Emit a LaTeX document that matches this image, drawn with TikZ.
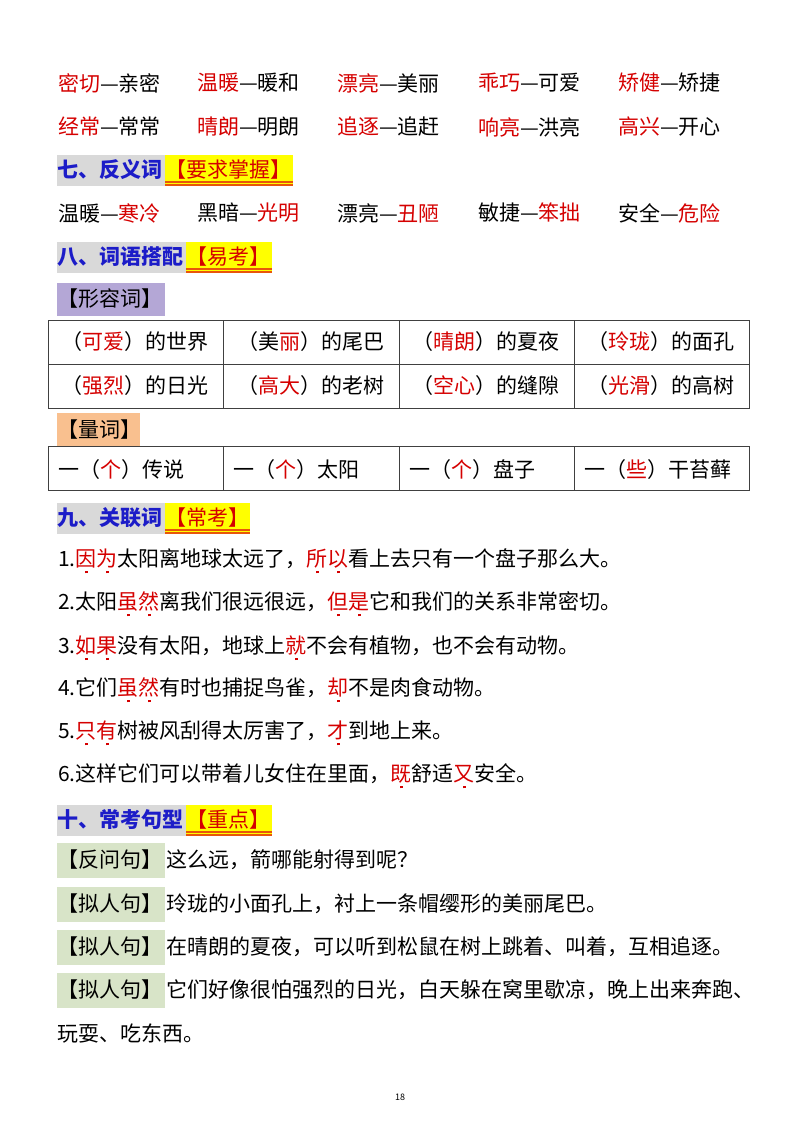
\documentclass[tikz,border=0pt]{standalone}
\usepackage{fontspec}
\setmainfont{Noto Sans CJK SC}
\definecolor{rd}{HTML}{D50000}
\definecolor{bl}{HTML}{1C1CC8}
\definecolor{gy}{HTML}{D9D9D9}
\definecolor{yl}{HTML}{FFFF00}
\definecolor{pu}{HTML}{B4A7D6}
\definecolor{og}{HTML}{F9C08F}
\definecolor{gn}{HTML}{D8E4C8}
\definecolor{ul}{HTML}{E8560A}
\newcommand\R[1]{\textcolor{rd}{#1}}
\newcommand\ed[1]{\textcolor{rd}{\makebox[0pt][l]{\makebox[1em]{\raisebox{-0.32em}{\rule{0.13em}{0.13em}}}}#1}}
\newcommand\E[2]{\ed{#1}\ed{#2}}
\tikzset{t/.style={anchor=west,inner sep=0,font=\fontsize{21}{21}\selectfont},
 hd/.style={t,font=\fontsize{21}{21}\selectfont\bfseries,text=bl},
 tag/.style={t,text=rd}}
\begin{document}
\begin{tikzpicture}[x=1pt,y=-1pt]
\useasboundingbox[fill=white] (0,0) rectangle (800,1132);
% synonyms
\foreach \y/\a/\b/\c/\d/\e in {83/{\R{密切}—亲密}/{\R{温暖}—暖和}/{\R{漂亮}—美丽}/{\R{乖巧}—可爱}/{\R{矫健}—矫捷},
 127/{\R{经常}—常常}/{\R{晴朗}—明朗}/{\R{追逐}—追赶}/{\R{响亮}—洪亮}/{\R{高兴}—开心},
 213/{温暖—\R{寒冷}}/{黑暗—\R{光明}}/{漂亮—\R{丑陋}}/{敏捷—\R{笨拙}}/{安全—\R{危险}}}{
 \node[t] (s1\y) at (58,\y) {\a};
 \node[t] (s2\y) at (197,\y) {\b};
 \node[t] (s3\y) at (337,\y) {\c};
 \node[t] (s4\y) at (478,\y) {\d};
 \node[t] (s5\y) at (618,\y) {\e};
}
% headings
\foreach \y/\g/\w/\h/\k in {170/165/293/七、反义词/【要求掌握】,257/186/272/八、词语搭配/【易考】,518/165/250/九、关联词/【常考】,820/186/272/十、常考句型/【重点】}{
 \fill[gy] (57,\y-15) rectangle (\g,\y+16);
 \fill[yl] (\g,\y-15) rectangle (\w,\y+16);
 \draw[ul,line width=1.2pt] (\g,\y+12) -- (\w,\y+12);
 \draw[ul,line width=1.2pt] (\g,\y+15) -- (\w,\y+15);
 \node[hd] (h\y) at (57,\y) {\h};
 \node[tag] (k\y) at (\g,\y) {\k};
}
% adjectives
\fill[pu] (57,283) rectangle (165,316);
\node[t] (adj) at (57,299) {【形容词】};
\draw[black!75,line width=0.8pt] (48,320) rectangle (749,408) (48,364) -- (749,364)
 (223,320) -- (223,408) (399,320) -- (399,408) (574,320) -- (574,408);
\foreach \x/\a/\b in {135/{（\R{可爱}）的世界}/{（\R{强烈}）的日光},311/{（美\R{丽}）的尾巴}/{（\R{高大}）的老树},486/{（\R{晴朗}）的夏夜}/{（\R{空心}）的缝隙},661/{（\R{玲珑}）的面孔}/{（\R{光滑}）的高树}}{
 \node[t,anchor=center] (a\x) at (\x,342) {\a};
 \node[t,anchor=center] (b\x) at (\x,386) {\b};
}
% measure words
\fill[og] (57,413) rectangle (140,446);
\node[t] (mw) at (57,430) {【量词】};
\draw[black!75,line width=0.8pt] (48,446) rectangle (749,490)
 (223,446) -- (223,490) (399,446) -- (399,490) (574,446) -- (574,490);
\node[t] (m1) at (58,470) {一（\R{个}）传说};
\node[t] (m2) at (233,470) {一（\R{个}）太阳};
\node[t] (m3) at (409,470) {一（\R{个}）盘子};
\node[t] (m4) at (584,470) {一（\R{些}）干苔藓};
% conjunctions
\node[t] (c1) at (58,561) {1.\E{因}{为}太阳离地球太远了，\E{所}{以}看上去只有一个盘子那么大。};
\node[t] (c2) at (58,604) {2.太阳\E{虽}{然}离我们很远很远，\E{但}{是}它和我们的关系非常密切。};
\node[t] (c3) at (58,648) {3.\E{如}{果}没有太阳，地球上\ed{就}不会有植物，也不会有动物。};
\node[t] (c4) at (58,690) {4.它们\E{虽}{然}有时也捕捉鸟雀，\ed{却}不是肉食动物。};
\node[t] (c5) at (58,733) {5.\E{只}{有}树被风刮得太厉害了，\ed{才}到地上来。};
\node[t] (c6) at (58,776) {6.这样它们可以带着儿女住在里面，\ed{既}舒适\ed{又}安全。};
% sentence types
\foreach \y/\k/\s in {860/反问句/{这么远，箭哪能射得到呢？},904/拟人句/{玲珑的小面孔上，衬上一条帽缨形的美丽尾巴。},947/拟人句/{在晴朗的夏夜，可以听到松鼠在树上跳着、叫着，互相追逐。},990/拟人句/{它们好像很怕强烈的日光，白天躲在窝里歇凉，晚上出来奔跑、}}{
 \fill[gn] (57,\y-17) rectangle (165,\y+18);
 \node[t] (g\y) at (57,\y) {【\k】};
 \node[t] (x\y) at (166,\y) {\s};
}
\node[t] (last) at (57,1033) {玩耍、吃东西。};
\node[inner sep=0,font=\fontsize{9}{9}\selectfont] (pg) at (400,1097) {18};
\end{tikzpicture}
\end{document}
